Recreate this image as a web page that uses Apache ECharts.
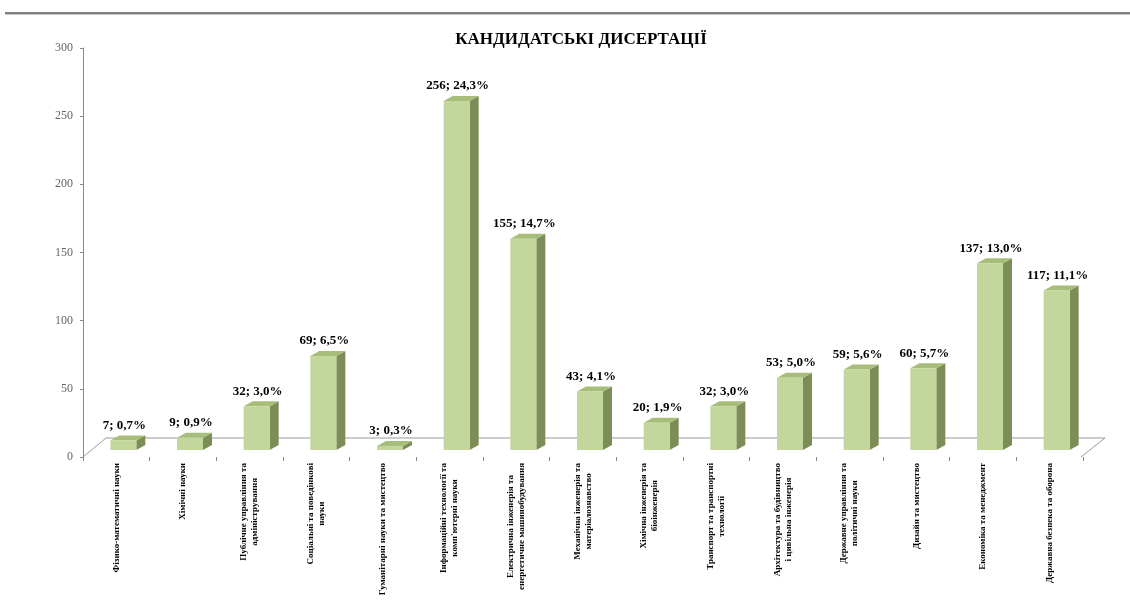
<!DOCTYPE html>
<html>
<head>
<meta charset="utf-8">
<script src="https://cdn.jsdelivr.net/npm/echarts@6/dist/echarts.min.js"></script>
<style>
  html, body { margin: 0; padding: 0; background: #fff; }
  #chart { width: 1130px; height: 601px; }
</style>
</head>
<body>
<div id="chart"></div>
<script>
// категорії (підписи осі X)
const categories = [
  'Фізико-математичні науки',
  'Хімічні науки',
  'Публічне управління та\nадміністрування',
  'Соціальні та поведінкові\nнауки',
  'Гуманітарні науки та мистецтво',
  'Інформаційні технології та\nкомп\'ютерні науки',
  'Електрична інженерія та\nенергетичне машинобудування',
  'Механічна інженерія та\nматеріалознавство',
  'Хімічна інженерія та\nбіоінженерія',
  'Транспорт та транспортні\nтехнології',
  'Архітектура та будівництво\nі цивільна інженерія',
  'Державне управління та\nполітичні науки',
  'Дизайн та мистецтво',
  'Економіка та менеджмент',
  'Державна безпека та оборона'
];
const values = [7, 9, 32, 69, 3, 256, 155, 43, 20, 32, 53, 59, 60, 137, 117];
const percents = ['0,7%', '0,9%', '3,0%', '6,5%', '0,3%', '24,3%', '14,7%', '4,1%', '1,9%', '3,0%', '5,0%', '5,6%', '5,7%', '13,0%', '11,1%'];

const FRONT = '#c3d69b';
const SIDE = '#7d8d58';
const TOP = '#a7bd7a';
const SERIF = '"Liberation Serif", "Times New Roman", serif';

// псевдо-3D стовпчик
function renderBar(params, api) {
  const i = api.value(0);
  const v = api.value(1);
  const base = api.coord([i, 0]);
  const top = api.coord([i, v]);
  const band = api.size([1, 0])[0];
  const w = band * 0.39;
  const dx = 9, dy = 5;
  const x0 = base[0] - w / 2 + 7;
  const x1 = x0 + w;
  const yb = base[1] - 7;
  const yt = top[1] - 7;
  return {
    type: 'group',
    children: [
      { type: 'polygon', shape: { points: [[x1, yt], [x1 + dx, yt - dy], [x1 + dx, yb - dy], [x1, yb]] }, style: { fill: SIDE } },
      { type: 'polygon', shape: { points: [[x0, yt], [x0 + dx, yt - dy], [x1 + dx, yt - dy], [x1, yt]] }, style: { fill: TOP } },
      { type: 'rect', shape: { x: x0, y: yt, width: w, height: yb - yt }, style: { fill: FRONT } },
      {
        type: 'text',
        style: {
          text: v + '; ' + percents[params.dataIndex],
          x: (x0 + x1) / 2 + 1, y: yt - 15,
          align: 'center', verticalAlign: 'middle',
          font: 'bold 13px ' + SERIF, fill: '#000'
        }
      }
    ]
  };
}

const chart = echarts.init(document.getElementById('chart'));

chart.setOption({
  backgroundColor: '#fff',
  animation: false,
  title: {
    text: 'КАНДИДАТСЬКІ ДИСЕРТАЦІЇ',
    left: 576,
    top: 26,
    textAlign: 'center',
    textStyle: { fontFamily: SERIF, fontSize: 17, fontWeight: 'bold', color: '#000' }
  },
  grid: { left: 83, right: 47, top: 48, bottom: 144 },
  xAxis: {
    type: 'category',
    data: categories,
    axisLine: { show: false },
    axisTick: { show: true, length: 4, lineStyle: { color: '#888' } },
    axisLabel: {
      rotate: 90,
      interval: 0,
      margin: 6,
      color: '#000',
      fontSize: 9,
      fontFamily: SERIF,
      lineHeight: 11,
      formatter: (s) => s.split('\n').map(l => '{c|' + l + '}').join('\n'),
      rich: { c: { align: 'center', fontSize: 9, fontWeight: 'bold', fontFamily: SERIF, lineHeight: 11, color: '#000' } }
    }
  },
  yAxis: {
    type: 'value',
    min: 0,
    max: 300,
    interval: 50,
    axisLine: { show: true, lineStyle: { color: '#888', width: 1 } },
    axisTick: { show: true, length: 3, lineStyle: { color: '#888' } },
    splitLine: { show: false },
    axisLabel: { color: '#666', fontSize: 12, fontFamily: SERIF, margin: 10 }
  },
  graphic: [
    { type: 'rect', shape: { x: 5, y: 12, width: 1125, height: 2 }, style: { fill: '#7f7f7f' } },
    { type: 'rect', shape: { x: 5, y: 14, width: 1125, height: 1 }, style: { fill: '#c8c8c8' } },
    { type: 'polyline', shape: { points: [[83, 457], [106, 438], [1105, 438], [1081, 457]] }, style: { stroke: '#999', lineWidth: 1, fill: null } }
  ],
  series: [{
    type: 'custom',
    renderItem: renderBar,
    encode: { x: 0, y: 1 },
    data: values.map((v, i) => [i, v]),
    z: 3
  }]
});
</script>
</body>
</html>
